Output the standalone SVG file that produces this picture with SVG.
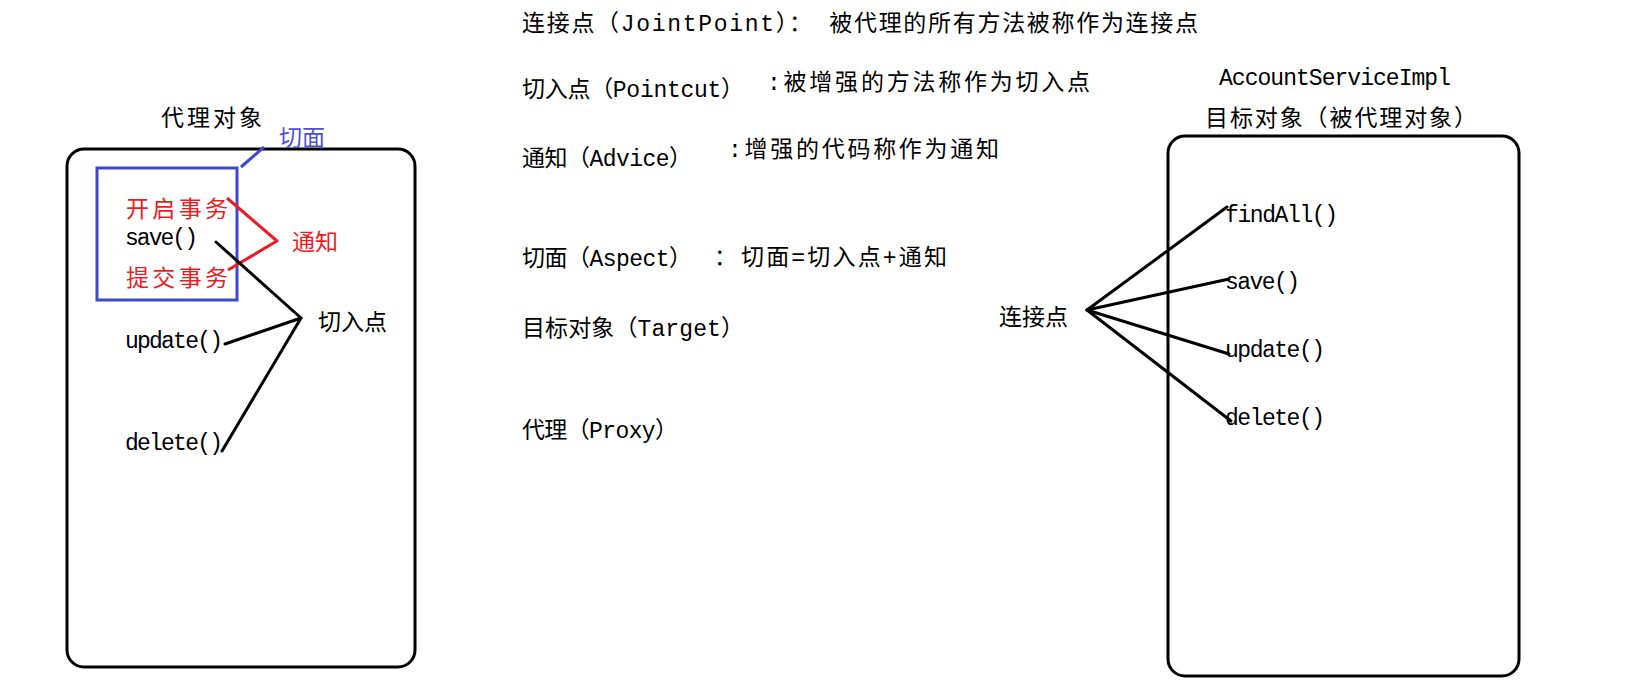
<svg xmlns="http://www.w3.org/2000/svg" width="1631" height="694" viewBox="0 0 1631 694">
<style>
.t{font-family:"Liberation Mono","Noto Sans CJK SC",monospace;font-size:23px;fill:#000}
.red{fill:#ed1c24}
.blue{fill:#5050d2}
.box{fill:none;stroke:#000;stroke-width:3}
.ln{fill:none;stroke:#000;stroke-width:3;stroke-linecap:round;stroke-linejoin:round}
.rl{fill:none;stroke:#ed1c24;stroke-width:3;stroke-linejoin:round}
.bl{fill:none;stroke:#3f48cc;stroke-width:3}
</style>
<rect width="1631" height="694" fill="#fff"/>
<g id="defs-text">
<text class="t" x="522" y="31" textLength="676">连接点（JointPoint）： 被代理的所有方法被称作为连接点</text>
<text class="t" x="522" y="97" textLength="222">切入点（Pointcut）</text>
<text class="t" x="767" y="90" textLength="323">:被增强的方法称作为切入点</text>
<text class="t" x="522" y="166" textLength="170">通知（Advice）</text>
<text class="t" x="728" y="157" textLength="271">:增强的代码称作为通知</text>
<text class="t" x="522" y="266" textLength="170">切面（Aspect）</text>
<text class="t" x="714" y="265">：</text>
<text class="t" x="741" y="265" textLength="206">切面=切入点+通知</text>
<text class="t" x="522" y="336" textLength="222">目标对象（Target）</text>
<text class="t" x="522" y="438" textLength="156">代理（Proxy）</text>
</g>
<g id="proxy">
<text class="t" x="161" y="126" textLength="101">代理对象</text>
<rect class="box" x="67" y="149" width="348" height="518" rx="17"/>
<text class="t red" x="126" y="217" textLength="102">开启事务</text>
<text class="t" x="125" y="245" textLength="73">save()</text>
<text class="t red" x="126" y="286" textLength="102">提交事务</text>
<text class="t" x="125" y="348" textLength="98">update()</text>
<text class="t" x="125" y="450" textLength="98">delete()</text>
</g>
<g id="aspect">
<rect class="bl" x="97" y="168" width="140" height="132"/>
<text class="t blue" x="279" y="146">切面</text>
</g>
<g id="advice">
<text class="t red" x="292" y="250">通知</text>
</g>
<g id="pointcut">
<text class="t" x="318" y="330">切入点</text>
</g>
<g id="target">
<text class="t" x="1219" y="85" textLength="232">AccountServiceImpl</text>
<text class="t" x="1205" y="126" textLength="272">目标对象（被代理对象）</text>
<rect class="box" x="1168" y="136" width="351" height="540" rx="17"/>
<text class="t" x="1225" y="222" textLength="113">findAll()</text>
<text class="t" x="1225" y="289" textLength="75">save()</text>
<text class="t" x="1225" y="357" textLength="100">update()</text>
<text class="t" x="1225" y="425" textLength="100">delete()</text>
</g>
<g id="joinpoint">
<text class="t" x="999" y="325">连接点</text>
</g>
<g id="connectors">
<path class="bl" d="M241,167 L264,147"/>
<path class="rl" d="M227,198 L277,241 L228,270"/>
<path class="ln" d="M216,242 L301,318"/>
<path class="ln" d="M225,344 L301,318 L222,451"/>
<path class="ln" d="M1227,207 L1087,310 L1229,279"/>
<path class="ln" d="M1087,310 L1229,354"/>
<path class="ln" d="M1087,310 L1231,421"/>
</g>
</svg>
